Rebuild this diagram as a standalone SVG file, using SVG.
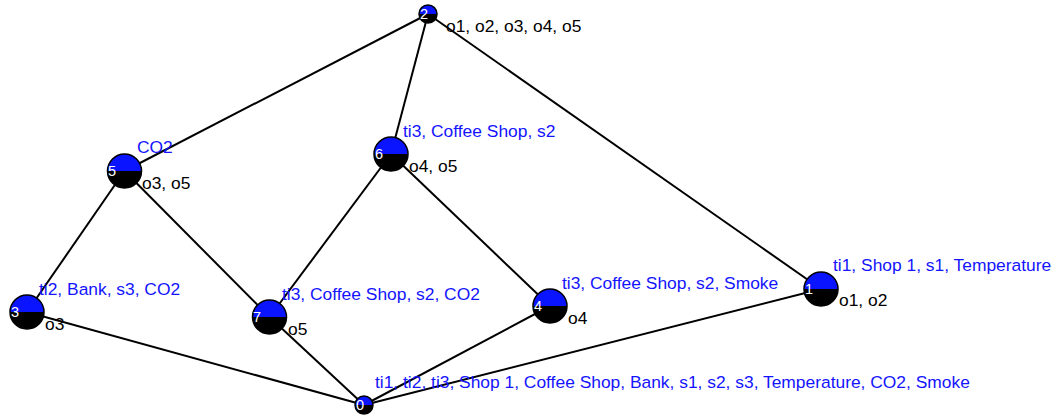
<svg xmlns="http://www.w3.org/2000/svg" width="1059" height="416" viewBox="0 0 1059 416">
<style>
.edge{stroke:#000;stroke-width:2;fill:none}
.top{fill:#0a14ff}
.bot{fill:#000}
.ring{fill:none;stroke:#000;stroke-width:1.5}
.num{font-family:"Liberation Sans",Arial,sans-serif;font-size:14.5px;fill:#fff}
.blue{font-family:"Liberation Sans",Arial,sans-serif;font-size:17.4px;fill:#1414ff}
.blk{font-family:"Liberation Sans",Arial,sans-serif;font-size:17.4px;fill:#000}
</style>
<rect width="1059" height="416" fill="#fff"/>
<g id="connectors">
<line class="edge" x1="428" y1="14" x2="124.5" y2="171"/>
<line class="edge" x1="428" y1="14" x2="391" y2="154"/>
<line class="edge" x1="428" y1="14" x2="821" y2="289"/>
<line class="edge" x1="124.5" y1="171" x2="27" y2="312"/>
<line class="edge" x1="124.5" y1="171" x2="269.5" y2="317"/>
<line class="edge" x1="391" y1="154" x2="269.5" y2="317"/>
<line class="edge" x1="391" y1="154" x2="550" y2="306"/>
<line class="edge" x1="27" y1="312" x2="364" y2="405"/>
<line class="edge" x1="269.5" y1="317" x2="364" y2="405"/>
<line class="edge" x1="550" y1="306" x2="364" y2="405"/>
<line class="edge" x1="821" y1="289" x2="364" y2="405"/>
</g>
<g id="node2">
<path class="top" d="M419,14 A9,9 0 0 1 437,14 Z"/><path class="bot" d="M419,14 A9,9 0 0 0 437,14 Z"/><circle class="ring" cx="428" cy="14" r="9"/>
<text class="num" x="420" y="19">2</text>
<text class="blk" x="446" y="32">o1, o2, o3, o4, o5</text>
</g>
<g id="node5">
<path class="top" d="M107.5,171 A17,17 0 0 1 141.5,171 Z"/><path class="bot" d="M107.5,171 A17,17 0 0 0 141.5,171 Z"/><circle class="ring" cx="124.5" cy="171" r="17"/>
<text class="num" x="108" y="176">5</text>
<text class="blue" x="137" y="153">CO2</text>
<text class="blk" x="142" y="189">o3, o5</text>
</g>
<g id="node6">
<path class="top" d="M374,154 A17,17 0 0 1 408,154 Z"/><path class="bot" d="M374,154 A17,17 0 0 0 408,154 Z"/><circle class="ring" cx="391" cy="154" r="17"/>
<text class="num" x="375" y="159">6</text>
<text class="blue" x="403" y="137">ti3, Coffee Shop, s2</text>
<text class="blk" x="409" y="172">o4, o5</text>
</g>
<g id="node3">
<path class="top" d="M10,312 A17,17 0 0 1 44,312 Z"/><path class="bot" d="M10,312 A17,17 0 0 0 44,312 Z"/><circle class="ring" cx="27" cy="312" r="17"/>
<text class="num" x="11" y="317">3</text>
<text class="blue" x="39" y="295">ti2, Bank, s3, CO2</text>
<text class="blk" x="45" y="330">o3</text>
</g>
<g id="node7">
<path class="top" d="M252.5,317 A17,17 0 0 1 286.5,317 Z"/><path class="bot" d="M252.5,317 A17,17 0 0 0 286.5,317 Z"/><circle class="ring" cx="269.5" cy="317" r="17"/>
<text class="num" x="253" y="322">7</text>
<text class="blue" x="282" y="300">ti3, Coffee Shop, s2, CO2</text>
<text class="blk" x="288" y="335">o5</text>
</g>
<g id="node4">
<path class="top" d="M533,306 A17,17 0 0 1 567,306 Z"/><path class="bot" d="M533,306 A17,17 0 0 0 567,306 Z"/><circle class="ring" cx="550" cy="306" r="17"/>
<text class="num" x="534" y="311">4</text>
<text class="blue" x="562" y="289">ti3, Coffee Shop, s2, Smoke</text>
<text class="blk" x="568" y="324">o4</text>
</g>
<g id="node1">
<path class="top" d="M804,289 A17,17 0 0 1 838,289 Z"/><path class="bot" d="M804,289 A17,17 0 0 0 838,289 Z"/><circle class="ring" cx="821" cy="289" r="17"/>
<text class="num" x="805" y="294">1</text>
<text class="blue" x="833" y="271">ti1, Shop 1, s1, Temperature</text>
<text class="blk" x="839" y="306">o1, o2</text>
</g>
<g id="node0">
<path class="top" d="M355,405 A9,9 0 0 1 373,405 Z"/><path class="bot" d="M355,405 A9,9 0 0 0 373,405 Z"/><circle class="ring" cx="364" cy="405" r="9"/>
<text class="num" x="356" y="410">0</text>
<text class="blue" x="375" y="388">ti1, ti2, ti3, Shop 1, Coffee Shop, Bank, s1, s2, s3, Temperature, CO2, Smoke</text>
</g>
</svg>
